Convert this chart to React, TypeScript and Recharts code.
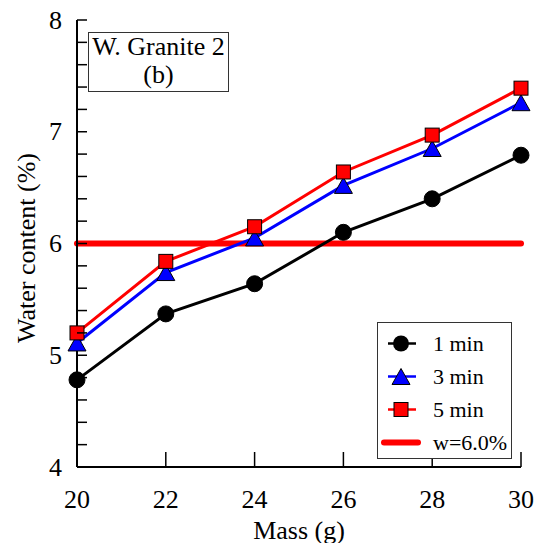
import React from 'react';
import { LineChart, Line, XAxis, YAxis, ReferenceLine, Legend, Label } from 'recharts';

const masses = [20, 22, 24, 26, 28, 30];
const oneMin = [4.78, 5.37, 5.64, 6.1, 6.4, 6.79];
const threeMin = [5.11, 5.74, 6.05, 6.52, 6.85, 7.26];
const fiveMin = [5.2, 5.84, 6.15, 6.64, 6.97, 7.39];
const threshold = 6.0;

const xTicks = [20, 22, 24, 26, 28, 30];
const xTopTicks = [20, 21.25, 22.5, 23.75, 25, 26.25, 27.5, 28.75, 30];
const yTicks = [4, 4.2, 4.4, 4.6, 4.8, 5, 5.2, 5.4, 5.6, 5.8, 6, 6.2, 6.4, 6.6, 6.8, 7, 7.2, 7.4, 7.6, 7.8, 8];
const yLabels = [4, 5, 6, 7, 8];

const seriesNames = ['1 min', '3 min', '5 min'];
const thresholdName = 'w=6.0%';
const titleLines = ['W. Granite 2', '(b)'];
const xTitle = 'Mass (g)';
const yTitle = 'Water content (%)';

const data = masses.map((m, i) => ({ mass: m, m1: oneMin[i], m3: threeMin[i], m5: fiveMin[i] }));

const FONT = "'Liberation Serif', 'Times New Roman', Times, serif";
const textStyle = { fontFamily: FONT, fontSize: 26, fill: '#000' } as any;

const Circle = (p: any) => {
  if (p.cx == null || p.cy == null) return null;
  return <circle key={p.key ?? `c${p.index}`} cx={p.cx} cy={p.cy} r={8} fill="#000" stroke="#000" strokeWidth={1} />;
};
const Tri = (p: any) => {
  if (p.cx == null || p.cy == null) return null;
  const { cx, cy } = p;
  const w = 9, h = 8;
  return (
    <polygon key={p.key ?? `t${p.index}`} points={`${cx},${cy - h} ${cx - w},${cy + h} ${cx + w},${cy + h}`} fill="#0000ff" stroke="#000" strokeWidth={1} />
  );
};
const Sq = (p: any) => {
  if (p.cx == null || p.cy == null) return null;
  return <rect key={p.key ?? `s${p.index}`} x={p.cx - 7} y={p.cy - 7} width={14} height={14} fill="#ff0000" stroke="#000" strokeWidth={1} />;
};

const LeftTick = (p: any) => {
  const { x, y, payload } = p;
  const v = payload.value;
  const isMajor = yLabels.some((l) => Math.abs(l - v) < 1e-6);
  return (
    <g>
      <line x1={x} y1={y} x2={x + 10} y2={y} stroke="#000" strokeWidth={1.5} />
      {isMajor && (
        <text x={x - 15} y={y} textAnchor="end" dominantBaseline="central" style={textStyle}>
          {Math.round(v)}
        </text>
      )}
    </g>
  );
};
const RightTick = (p: any) => {
  const { x, y } = p;
  return <line x1={x} y1={y} x2={x - 8} y2={y} stroke="#000" strokeWidth={1.5} />;
};
const BottomTick = (p: any) => {
  const { x, y, payload } = p;
  return (
    <g>
      <line x1={x} y1={y} x2={x} y2={y - 15} stroke="#000" strokeWidth={1.5} />
      <text x={x} y={y + 41} textAnchor="middle" style={textStyle}>
        {payload.value}
      </text>
    </g>
  );
};
const TopTick = (p: any) => {
  const { x, y } = p;
  return <line x1={x} y1={y} x2={x} y2={y + 15} stroke="#000" strokeWidth={1.5} />;
};

const legendItems = [
  { name: seriesNames[0], color: '#000', shape: 'circle' },
  { name: seriesNames[1], color: '#0000ff', shape: 'tri' },
  { name: seriesNames[2], color: '#ff0000', shape: 'sq' },
  { name: thresholdName, color: '#ff0000', shape: 'thick' },
];

const LegendContent = () => (
  <div
    style={{
      position: 'relative',
      width: 133,
      height: 135,
      border: '1px solid #333',
      background: '#fff',
      fontFamily: FONT,
      fontSize: 22,
      color: '#000',
    }}
  >
    {legendItems.map((it, i) => (
      <div key={i} style={{ position: 'absolute', left: 0, top: 4 + i * 33, height: 33, display: 'flex', alignItems: 'center' }}>
        <svg width={50} height={33} style={{ display: 'block' }}>
          {it.shape === 'thick' ? (
            <line x1={6} y1={16.5} x2={40} y2={16.5} stroke={it.color} strokeWidth={6} strokeLinecap="round" />
          ) : (
            <line x1={10} y1={16.5} x2={38} y2={16.5} stroke={it.color} strokeWidth={2.5} />
          )}
          {it.shape === 'circle' && <circle cx={23} cy={16.5} r={8} fill="#000" />}
          {it.shape === 'tri' && <polygon points="23,8.5 14,24.5 32,24.5" fill="#0000ff" stroke="#000" strokeWidth={1} />}
          {it.shape === 'sq' && <rect x={16} y={9.5} width={14} height={14} fill="#ff0000" stroke="#000" strokeWidth={1} />}
        </svg>
        <span style={{ marginLeft: 5, whiteSpace: 'nowrap', lineHeight: '33px', fontFamily: FONT }}>{it.name}</span>
      </div>
    ))}
  </div>
);

export default function App() {
  return (
    <div style={{ position: 'absolute', left: 0, top: 0, width: 540, height: 543, background: '#fff', fontFamily: FONT }}>
      <LineChart width={540} height={543} data={data} margin={{ top: 20, right: 19, bottom: 0, left: 0 }} style={{ fontFamily: FONT }}>
        <XAxis
          xAxisId="bottom"
          dataKey="mass"
          type="number"
          domain={[20, 30]}
          ticks={xTicks}
          height={76}
          tickSize={0}
          tickMargin={0}
          tick={<BottomTick />}
          axisLine={{ stroke: '#000', strokeWidth: 2 }}
          tickLine={false}
          interval={0}
        >
          <Label
            content={(props: any) => {
              const vb = props.viewBox;
              return (
                <text x={vb.x + vb.width / 2} y={vb.y + 72} textAnchor="middle" style={textStyle}>
                  {xTitle}
                </text>
              );
            }}
          />
        </XAxis>
        <XAxis
          xAxisId="top"
          orientation="top"
          dataKey="mass"
          type="number"
          domain={[20, 30]}
          ticks={xTopTicks}
          height={0}
          tickSize={0}
          tickMargin={0}
          tick={<TopTick />}
          axisLine={{ stroke: '#000', strokeWidth: 2 }}
          tickLine={false}
          interval={0}
        />
        <YAxis
          yAxisId="left"
          type="number"
          domain={[4, 8]}
          ticks={yTicks}
          width={77}
          tickSize={0}
          tickMargin={0}
          tick={<LeftTick />}
          axisLine={{ stroke: '#000', strokeWidth: 2 }}
          tickLine={false}
          interval={0}
        >
          <Label
            content={(props: any) => {
              const vb = props.viewBox;
              const cx = vb.x + 26;
              const cy = 248;
              return (
                <text x={cx} y={cy} transform={`rotate(-90, ${cx}, ${cy})`} textAnchor="middle" dominantBaseline="central" style={textStyle}>
                  {yTitle}
                </text>
              );
            }}
          />
        </YAxis>
        <YAxis
          yAxisId="right"
          orientation="right"
          type="number"
          domain={[4, 8]}
          ticks={yTicks}
          width={0}
          tickSize={0}
          tickMargin={0}
          tick={<RightTick />}
          axisLine={{ stroke: '#000', strokeWidth: 2 }}
          tickLine={false}
          interval={0}
        />
        <ReferenceLine xAxisId="bottom" yAxisId="left" y={threshold} stroke="#ff0000" strokeWidth={6} strokeLinecap="round" ifOverflow="visible" />
        <Line xAxisId="bottom" yAxisId="left" type="linear" dataKey="m1" name={seriesNames[0]} stroke="#000" strokeWidth={3} dot={Circle} isAnimationActive={false} />
        <Line xAxisId="bottom" yAxisId="left" type="linear" dataKey="m3" name={seriesNames[1]} stroke="#0000ff" strokeWidth={3} dot={Tri} isAnimationActive={false} />
        <Line xAxisId="bottom" yAxisId="left" type="linear" dataKey="m5" name={seriesNames[2]} stroke="#ff0000" strokeWidth={3} dot={Sq} isAnimationActive={false} />
        <Legend
          layout="vertical"
          align="center"
          verticalAlign="middle"
          content={<LegendContent />}
          wrapperStyle={{ position: 'absolute', left: 377, top: 322, width: 135, height: 137 }}
        />
      </LineChart>
      <div
        style={{
          position: 'absolute',
          left: 88,
          top: 32,
          width: 139,
          height: 58,
          border: '1px solid #333',
          background: '#fff',
          fontFamily: FONT,
          fontSize: 26,
          lineHeight: '28px',
          textAlign: 'center',
          color: '#000',
        }}
      >
        {titleLines.map((t, i) => (
          <div key={i} style={{ whiteSpace: 'nowrap', fontFamily: FONT }}>{t}</div>
        ))}
      </div>
    </div>
  );
}
